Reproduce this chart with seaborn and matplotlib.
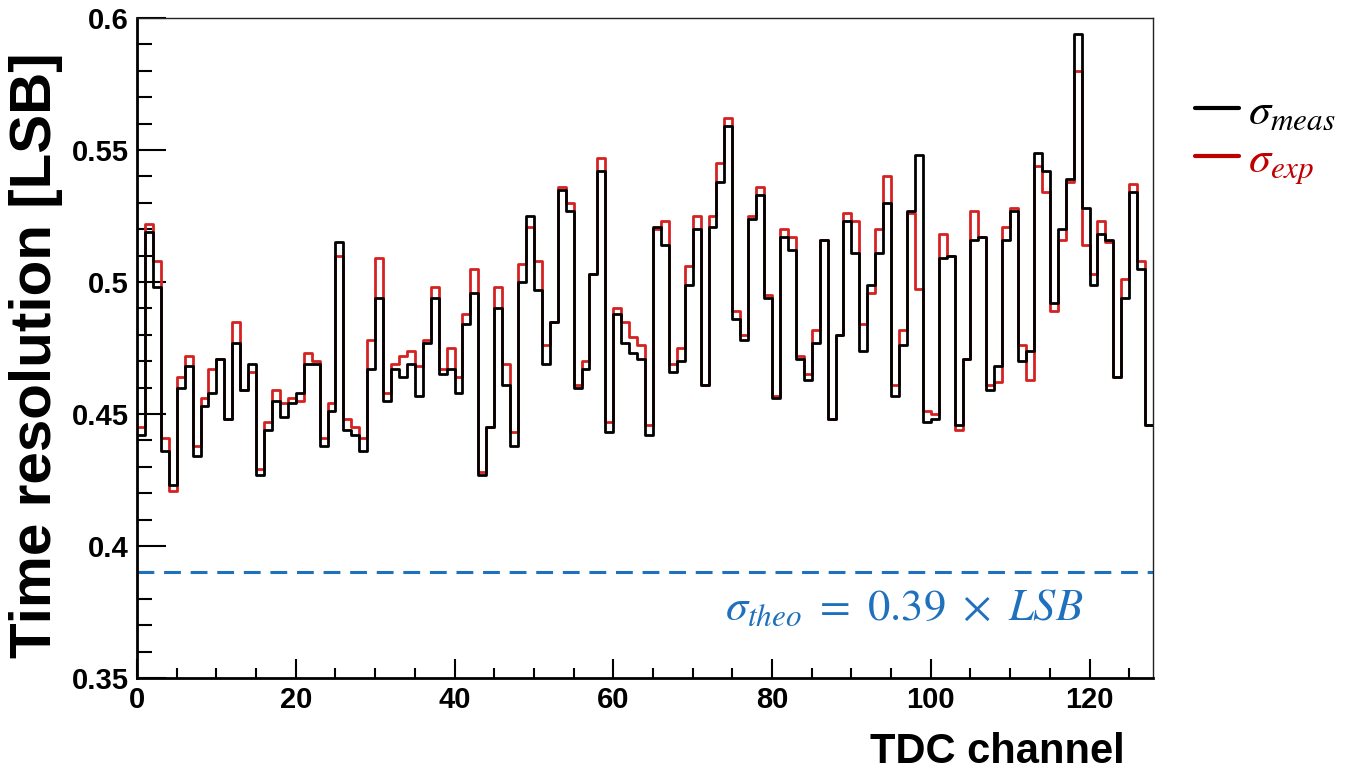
import numpy as np
import pandas as pd
import matplotlib
matplotlib.use("Agg")
import matplotlib.pyplot as plt
import seaborn as sns
from matplotlib.ticker import MultipleLocator, FuncFormatter

channels = list(range(128))
sigma_meas = [
    0.442, 0.519, 0.498, 0.436, 0.423, 0.460, 0.468, 0.434, 0.453, 0.458,
    0.471, 0.448, 0.477, 0.459, 0.469, 0.427, 0.444, 0.455, 0.449, 0.454,
    0.458, 0.469, 0.469, 0.438, 0.451, 0.515, 0.444, 0.442, 0.436, 0.467,
    0.494, 0.455, 0.467, 0.464, 0.469, 0.457, 0.477, 0.494, 0.465, 0.467,
    0.458, 0.484, 0.496, 0.427, 0.445, 0.490, 0.461, 0.438, 0.500, 0.525,
    0.497, 0.469, 0.485, 0.535, 0.527, 0.460, 0.467, 0.503, 0.542, 0.443,
    0.488, 0.477, 0.473, 0.471, 0.442, 0.521, 0.514, 0.466, 0.470, 0.499,
    0.520, 0.461, 0.521, 0.538, 0.559, 0.486, 0.478, 0.524, 0.533, 0.494,
    0.456, 0.517, 0.512, 0.471, 0.463, 0.477, 0.516, 0.448, 0.480, 0.523,
    0.511, 0.474, 0.499, 0.511, 0.530, 0.457, 0.476, 0.527, 0.548, 0.447,
    0.448, 0.509, 0.510, 0.446, 0.471, 0.516, 0.517, 0.459, 0.468, 0.516,
    0.527, 0.470, 0.474, 0.549, 0.542, 0.492, 0.520, 0.539, 0.594, 0.528,
    0.499, 0.518, 0.516, 0.464, 0.494, 0.534, 0.505, 0.446,
]
sigma_exp = [
    0.445, 0.522, 0.508, 0.441, 0.421, 0.464, 0.472, 0.438, 0.456, 0.467,
    0.471, 0.448, 0.485, 0.459, 0.466, 0.429, 0.447, 0.459, 0.454, 0.456,
    0.455, 0.473, 0.470, 0.441, 0.454, 0.510, 0.448, 0.445, 0.441, 0.478,
    0.509, 0.458, 0.469, 0.472, 0.474, 0.468, 0.478, 0.498, 0.467, 0.475,
    0.464, 0.488, 0.505, 0.428, 0.445, 0.498, 0.469, 0.443, 0.507, 0.521,
    0.508, 0.476, 0.485, 0.536, 0.530, 0.461, 0.470, 0.503, 0.547, 0.447,
    0.490, 0.485, 0.479, 0.476, 0.446, 0.520, 0.523, 0.469, 0.475, 0.506,
    0.525, 0.461, 0.525, 0.545, 0.562, 0.489, 0.480, 0.525, 0.536, 0.495,
    0.457, 0.520, 0.517, 0.472, 0.465, 0.482, 0.516, 0.448, 0.480, 0.526,
    0.523, 0.484, 0.496, 0.520, 0.540, 0.461, 0.482, 0.526, 0.4975, 0.451,
    0.450, 0.518, 0.510, 0.444, 0.471, 0.527, 0.517, 0.461, 0.462, 0.521,
    0.528, 0.476, 0.463, 0.544, 0.534, 0.489, 0.516, 0.538, 0.580, 0.514,
    0.503, 0.523, 0.515, 0.464, 0.501, 0.537, 0.508, 0.446,
]
sigma_theo = 0.39
x_ticks = [0, 20, 40, 60, 80, 100, 120]
y_ticks = [0.35, 0.4, 0.45, 0.5, 0.55, 0.6]

sns.set_style("ticks")
plt.rcParams["font.family"] = ["Liberation Sans", "DejaVu Sans"]
plt.rcParams["mathtext.fontset"] = "stix"
plt.rcParams["text.color"] = "black"
plt.rcParams["xtick.color"] = "black"
plt.rcParams["ytick.color"] = "black"
plt.rcParams["xtick.labelcolor"] = "black"
plt.rcParams["ytick.labelcolor"] = "black"

RED_LINE = "#d42222"
RED_TEXT = "#c00000"
BLUE = "#1f70bd"

# step data: bin left edges plus the closing edge
edges = channels + [128]
df = pd.DataFrame({
    "edge": edges,
    "meas": sigma_meas + [sigma_meas[-1]],
    "exp": sigma_exp + [sigma_exp[-1]],
})

fig = plt.figure(figsize=(13.57, 7.72), dpi=100)
ax = fig.add_axes([137 / 1357, 1 - 678 / 772, (1153 - 137) / 1357, (678 - 18) / 772])

sns.lineplot(data=df, x="edge", y="exp", ax=ax, color=RED_LINE, lw=2.0,
             drawstyle="steps-post", estimator=None, sort=False, label=r"$\sigma_{exp}$")
sns.lineplot(data=df, x="edge", y="meas", ax=ax, color="black", lw=2.0,
             drawstyle="steps-post", estimator=None, sort=False, label=r"$\sigma_{meas}$")

ax.axhline(sigma_theo, color=BLUE, lw=2.2, ls=(0, (5.5, 3.2)))
ax.text((725 - 137) / 1016, (678 - 608) / 660, r"$\sigma_{theo}\ =\ 0.39\ \times\ LSB$",
        color=BLUE, fontsize=32, transform=ax.transAxes, ha="left", va="center")

ax.set_xlim(0, 128)
ax.set_ylim(0.35, 0.6)
ax.set_xticks(x_ticks)
ax.set_yticks(y_ticks)
ax.xaxis.set_minor_locator(MultipleLocator(5))
ax.yaxis.set_minor_locator(MultipleLocator(0.01))
ax.yaxis.set_major_formatter(FuncFormatter(lambda v, p: f"{v:g}"))
ax.tick_params(axis="y", which="major", direction="in", length=21, width=1.5,
               labelsize=21, pad=6, colors="black")
ax.tick_params(axis="y", which="minor", direction="in", length=11, width=1.5, colors="black")
ax.tick_params(axis="x", which="major", direction="in", length=14, width=1.5,
               labelsize=21, pad=6, colors="black")
ax.tick_params(axis="x", which="minor", direction="in", length=7, width=1.5, colors="black")
for lab in ax.get_xticklabels() + ax.get_yticklabels():
    lab.set_fontweight("bold")

for s in ["left", "bottom"]:
    ax.spines[s].set_linewidth(2.0)
    ax.spines[s].set_color("black")
for s in ["top", "right"]:
    ax.spines[s].set_linewidth(1.0)
    ax.spines[s].set_color("#222222")

ax.set_xlabel("")
ax.set_ylabel("")
fig.text(1125 / 1357, 1 - 752 / 772, "TDC channel", fontsize=30, fontweight="bold",
         ha="right", va="center", color="black")
fig.text(36 / 1357, 1 - 355 / 772, "Time resolution [LSB]", fontsize=42, fontweight="bold",
         rotation=90, ha="center", va="center", color="black")

handles, labels = ax.get_legend_handles_labels()
order = [1, 0]
leg = ax.legend([handles[i] for i in order], [labels[i] for i in order],
                loc="upper left", bbox_to_anchor=((1195 - 137) / 1016, (678 - 92) / 660),
                frameon=False, fontsize=32, handlelength=1.0, handletextpad=0.2,
                labelspacing=0.15, borderpad=0, borderaxespad=0)
for t, c in zip(leg.get_texts(), ["black", RED_TEXT]):
    t.set_color(c)
leg.legend_handles[1].set_color(RED_TEXT)
for h in leg.legend_handles:
    h.set_linewidth(3)

fig.savefig("out.png", dpi=100)
